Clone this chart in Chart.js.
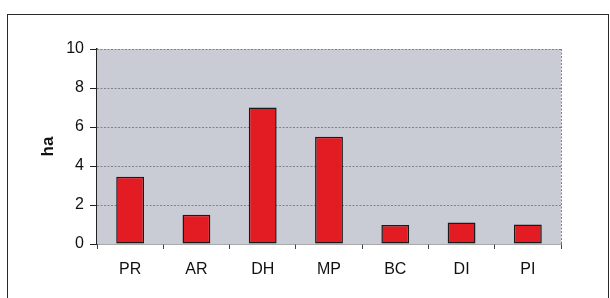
<!DOCTYPE html>
<html>
<head>
<meta charset="utf-8">
<script src="https://cdn.jsdelivr.net/npm/chart.js@4"></script>
<style>
  body { margin: 0; background: #fff; }
  #wrap { position: relative; width: 610px; height: 298px; }
  #frame { position: absolute; left: 7px; top: 14px; width: 600px; height: 300px;
           border: 1px solid #2a2a2a; border-bottom: none; }
  canvas { position: absolute; left: 0; top: 0; }
</style>
</head>
<body>
<div id="wrap">
  <div id="frame"></div>
  <canvas id="chart" width="610" height="298"></canvas>
</div>
<script>
// data
const categories = ['PR', 'AR', 'DH', 'MP', 'BC', 'DI', 'PI'];
const areaHa = [3.45, 1.5, 7.0, 5.5, 0.97, 1.1, 1.0];
const yTicks = [0, 2, 4, 6, 8, 10];

const FONT = "'Liberation Sans', Arial, sans-serif";

// plot background + dotted gridlines
const plotBg = {
  id: 'plotBg',
  beforeDatasetsDraw(chart) {
    const { ctx, chartArea: a, scales } = chart;
    ctx.save();
    ctx.fillStyle = '#c9ccd5';
    ctx.fillRect(a.left, a.top, a.right - a.left, a.bottom - a.top);
    ctx.strokeStyle = '#80838b';
    ctx.lineWidth = 1;
    ctx.setLineDash([2, 1.5]);
    yTicks.forEach(v => {
      if (v === 0) return;
      const y = Math.round(scales.y.getPixelForValue(v)) + 0.5;
      ctx.beginPath();
      ctx.moveTo(a.left, y);
      ctx.lineTo(a.right, y);
      ctx.stroke();
    });
    ctx.beginPath();
    ctx.moveTo(a.right + 0.5, a.top);
    ctx.lineTo(a.right + 0.5, a.bottom);
    ctx.stroke();
    ctx.restore();
  }
};

new Chart(document.getElementById('chart'), {
  type: 'bar',
  data: {
    labels: categories,
    datasets: [{
      data: areaHa,
      backgroundColor: '#e31b22',
      borderColor: '#1a1a1a',
      borderWidth: 1.5,
      borderSkipped: false,
      barPercentage: 0.42,
      categoryPercentage: 1
    }]
  },
  options: {
    responsive: false,
    animation: false,
    layout: { padding: { left: 30, right: 49, top: 49, bottom: 0 } },
    plugins: { legend: { display: false }, tooltip: { enabled: false } },
    scales: {
      x: {
        afterFit: s => { s.height = 54; },
        grid: { drawOnChartArea: false, tickLength: 5, color: '#444' },
        border: { color: '#555', width: 1.5 },
        ticks: { color: '#111', padding: 11, font: { family: FONT, size: 16 } }
      },
      y: {
        min: 0,
        max: 10,
        afterFit: s => { s.width = 67; },
        afterBuildTicks: s => { s.ticks = yTicks.map(v => ({ value: v })); },
        grid: { drawOnChartArea: false, tickLength: 7, color: '#222' },
        border: { color: '#222', width: 1.5 },
        ticks: { color: '#111', padding: 6, font: { family: FONT, size: 16 } },
        title: {
          display: true,
          text: 'ha',
          color: '#111',
          padding: { top: 8, bottom: 0 },
          font: { family: FONT, size: 17, weight: 'bold' }
        }
      }
    }
  },
  plugins: [plotBg]
});
</script>
</body>
</html>
